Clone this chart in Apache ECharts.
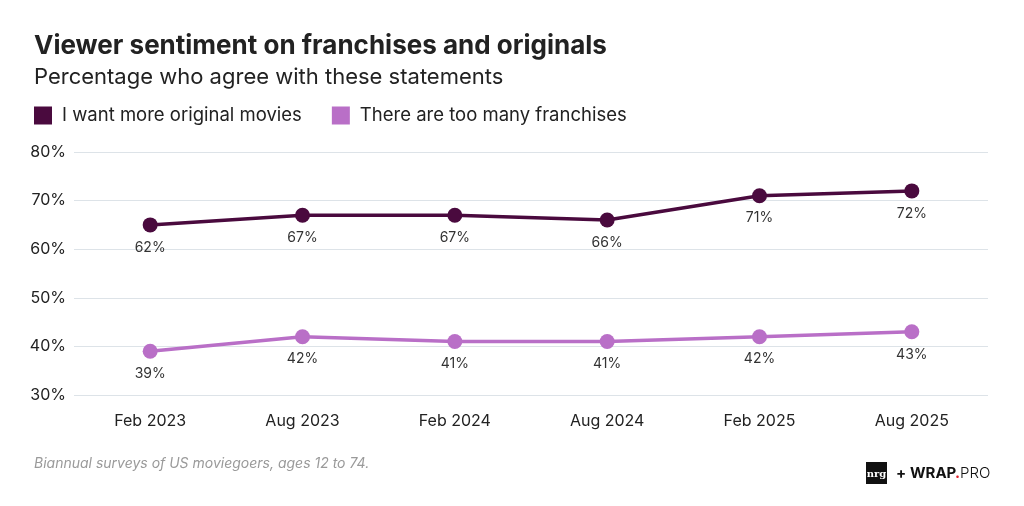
<!DOCTYPE html>
<html>
<head>
<meta charset="utf-8">
<script src="https://cdn.jsdelivr.net/npm/echarts@6/dist/echarts.min.js"></script>
<style>html,body{margin:0;padding:0;background:#fff}#c{width:1024px;height:506px}</style>
</head>
<body>
<div id="c"></div>
<script>
const categories = ['Feb 2023', 'Aug 2023', 'Feb 2024', 'Aug 2024', 'Feb 2025', 'Aug 2025'];
const originalValues = [65, 67, 67, 66, 71, 72];
const originalLabels = ['62%', '67%', '67%', '66%', '71%', '72%'];
const franchiseValues = [39, 42, 41, 41, 42, 43];
const franchiseLabels = ['39%', '42%', '41%', '41%', '42%', '43%'];
const yTicks = [30, 40, 50, 60, 70, 80];

const FONT = 'Inter, "Noto Sans", sans-serif';
const chart = echarts.init(document.getElementById('c'), null, {renderer: 'canvas'});

function labelFor(arr) {
  return function (p) { return arr[p.dataIndex]; };
}

chart.setOption({
  animation: false,
  backgroundColor: '#ffffff',
  textStyle: {fontFamily: FONT},
  title: [
    {text: 'Viewer sentiment on franchises and originals', left: 29, top: 28,
     textStyle: {fontFamily: FONT, fontSize: 26, fontWeight: 'bold', color: '#222222'}},
    {text: 'Percentage who agree with these statements', left: 29, top: 61,
     textStyle: {fontFamily: FONT, fontSize: 22, fontWeight: 'normal', color: '#222222'}}
  ],
  legend: {
    left: 29, top: 101, itemWidth: 18, itemHeight: 18, itemGap: 30, icon: 'rect',
    textStyle: {fontFamily: FONT, fontSize: 18.5, color: '#222222', padding: [0, 0, 0, 5]},
    data: ['I want more original movies', 'There are too many franchises']
  },
  grid: {left: 74, right: 36, top: 152, bottom: 111},
  xAxis: {
    type: 'category', data: categories, boundaryGap: true,
    axisLine: {show: false}, axisTick: {show: false},
    axisLabel: {fontFamily: FONT, fontSize: 16, color: '#222222', margin: 18}
  },
  yAxis: {
    type: 'value', min: yTicks[0], max: yTicks[yTicks.length - 1], interval: 10,
    axisLine: {show: false}, axisTick: {show: false},
    axisLabel: {fontFamily: FONT, fontSize: 16, color: '#222222', margin: 8,
      formatter: function (v) { return v + '%'; }},
    splitLine: {lineStyle: {color: '#dde3e8', width: 1}}
  },
  series: [
    {name: 'I want more original movies', type: 'line', data: originalValues,
     color: '#4a0a3e', symbol: 'circle', symbolSize: 15,
     lineStyle: {width: 3.5, color: '#4a0a3e'}, itemStyle: {color: '#4a0a3e'},
     label: {show: true, position: 'bottom', distance: 8, formatter: labelFor(originalLabels),
       fontFamily: FONT, fontSize: 14, color: '#333333'}},
    {name: 'There are too many franchises', type: 'line', data: franchiseValues,
     color: '#b96fc7', symbol: 'circle', symbolSize: 15,
     lineStyle: {width: 3.5, color: '#b96fc7'}, itemStyle: {color: '#b96fc7'},
     label: {show: true, position: 'bottom', distance: 8, formatter: labelFor(franchiseLabels),
       fontFamily: FONT, fontSize: 14, color: '#333333'}}
  ],
  graphic: [
    {type: 'text', left: 34, top: 457,
     style: {text: 'Biannual surveys of US moviegoers, ages 12 to 74.', font: 'italic 14px ' + FONT, fill: '#9a9a9a'}},
    {type: 'rect', shape: {x: 866, y: 462, width: 21, height: 22}, style: {fill: '#111111'}},
    {type: 'text', x: 876.5, y: 474, style: {text: 'nrg', font: 'bold 10px "DejaVu Serif", serif', fill: '#ffffff', align: 'center', verticalAlign: 'middle'}},
    {type: 'text', x: 896, y: 473, style: {text: '+', font: 'bold 15px ' + FONT, fill: '#111111', verticalAlign: 'middle'}},
    {type: 'text', x: 910, y: 473, style: {text: 'WRAP', font: 'bold 15px ' + FONT, fill: '#111111', verticalAlign: 'middle'}},
    {type: 'text', x: 955, y: 473, style: {text: '.', font: 'bold 15px ' + FONT, fill: '#e0202a', verticalAlign: 'middle'}},
    {type: 'text', x: 960, y: 473, style: {text: 'PRO', font: '300 15px ' + FONT, fill: '#111111', verticalAlign: 'middle'}}
  ]
});
</script>
</body>
</html>
